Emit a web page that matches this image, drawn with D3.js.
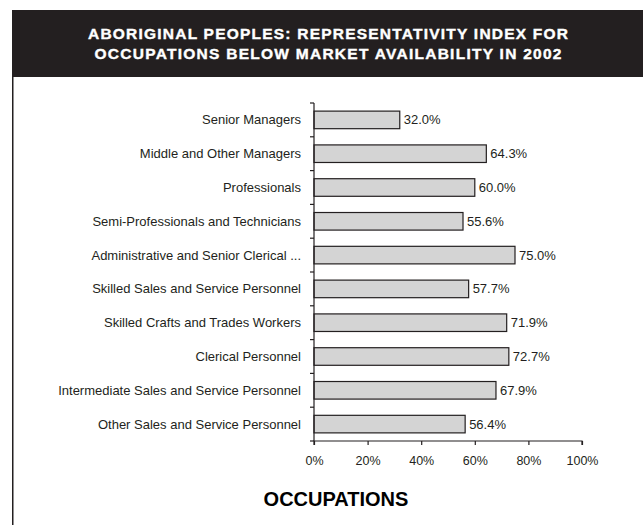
<!DOCTYPE html>
<html>
<head>
<meta charset="utf-8">
<script src="https://cdn.jsdelivr.net/npm/d3@7"></script>
<style>
  html, body { margin: 0; padding: 0; background: #fff; }
  svg { display: block; }
</style>
</head>
<body>
<svg id="chart" width="643" height="525"></svg>
<script>
// Occupational groups, top to bottom
const categories = [
  "Senior Managers",
  "Middle and Other Managers",
  "Professionals",
  "Semi-Professionals and Technicians",
  "Administrative and Senior Clerical ...",
  "Skilled Sales and Service Personnel",
  "Skilled Crafts and Trades Workers",
  "Clerical Personnel",
  "Intermediate Sales and Service Personnel",
  "Other Sales and Service Personnel"
];
// Representativity index (%)
const values = [32.0, 64.3, 60.0, 55.6, 75.0, 57.7, 71.9, 72.7, 67.9, 56.4];
const xTicks = [0, 20, 40, 60, 80, 100];
const titleLines = [
  "ABORIGINAL PEOPLES: REPRESENTATIVITY INDEX FOR",
  "OCCUPATIONS BELOW MARKET AVAILABILITY IN 2002"
];
const axisTitle = "OCCUPATIONS";

const svg = d3.select("#chart");
const font = "Arial, 'Liberation Sans', Helvetica, sans-serif";

// Header banner
svg.append("rect")
  .attr("x", 12).attr("y", 10)
  .attr("width", 631).attr("height", 67)
  .attr("fill", "#231f20");

const titleWidths = [480, 467];
titleLines.forEach((t, i) => {
  const txt = svg.append("text")
    .attr("x", 328).attr("y", 39 + i * 20)
    .attr("text-anchor", "middle")
    .attr("fill", "#fff")
    .attr("stroke", "#fff")
    .attr("stroke-width", 0.4)
    .attr("font-family", font)
    .attr("font-weight", "bold")
    .attr("font-size", 15.5)
    .text(t);
  const w = txt.node().getComputedTextLength();
  const ls = (titleWidths[i] - w) / (t.length - 1);
  txt.attr("letter-spacing", ls);
  txt.attr("x", 328 + ls / 2);
});

// Left frame line
svg.append("line")
  .attr("x1", 12.75).attr("x2", 12.75)
  .attr("y1", 77).attr("y2", 525)
  .attr("stroke", "#231f20").attr("stroke-width", 1.5);

// Scales
const x = d3.scaleLinear().domain([0, 100]).range([314, 582]);
const y = d3.scaleBand().domain(categories).range([103, 441]).paddingInner(0.48).paddingOuter(0.24);

// Bars
svg.append("g").selectAll("rect")
  .data(categories)
  .join("rect")
  .attr("x", x(0))
  .attr("y", d => y(d))
  .attr("width", (d, i) => x(values[i]) - x(0))
  .attr("height", y.bandwidth())
  .attr("fill", "#d4d4d4")
  .attr("stroke", "#231f20")
  .attr("stroke-width", 1.2);

// Value labels
svg.append("g").selectAll("text")
  .data(categories)
  .join("text")
  .attr("x", (d, i) => x(values[i]) + 4)
  .attr("y", d => y(d) + y.bandwidth() / 2)
  .attr("dy", "0.35em")
  .attr("font-family", font)
  .attr("font-size", 13)
  .attr("fill", "#231f20")
  .text((d, i) => values[i].toFixed(1) + "%");

// Category axis with ticks on band boundaries
const yAxisG = svg.append("g").attr("transform", `translate(${x(0)},0)`);
yAxisG.append("line")
  .attr("x1", 0).attr("x2", 0)
  .attr("y1", 103).attr("y2", 441)
  .attr("stroke", "#231f20").attr("stroke-width", 1.2);
const bounds = d3.range(categories.length + 1).map(i => 103 + i * y.step());
yAxisG.selectAll("line.tk")
  .data(bounds)
  .join("line")
  .attr("class", "tk")
  .attr("x1", -4).attr("x2", 0)
  .attr("y1", d => d).attr("y2", d => d)
  .attr("stroke", "#231f20").attr("stroke-width", 1.2);
yAxisG.selectAll("text")
  .data(categories)
  .join("text")
  .attr("x", -13)
  .attr("y", d => y(d) + y.bandwidth() / 2)
  .attr("dy", "0.35em")
  .attr("text-anchor", "end")
  .attr("font-family", font)
  .attr("font-size", 13)
  .attr("fill", "#231f20")
  .text(d => d);

// Value axis
const xAxis = d3.axisBottom(x)
  .tickValues(xTicks)
  .tickSize(4)
  .tickFormat(d => d + "%");
const xAxisG = svg.append("g")
  .attr("transform", "translate(0,441)")
  .call(xAxis);
xAxisG.select(".domain").attr("stroke", "#231f20").attr("stroke-width", 1.2)
  .attr("d", `M${x(0)},4V0H${x(100)}V4`);
xAxisG.selectAll(".tick line").attr("stroke", "#231f20").attr("stroke-width", 1.2);
xAxisG.selectAll(".tick text")
  .attr("font-family", font)
  .attr("font-size", 12.5)
  .attr("fill", "#231f20")
  .attr("y", 15);

// Axis title
svg.append("text")
  .attr("x", 336).attr("y", 506)
  .attr("text-anchor", "middle")
  .attr("font-family", font)
  .attr("font-weight", "bold")
  .attr("font-size", 20)
  .attr("fill", "#000")
  .text(axisTitle);
</script>
</body>
</html>
